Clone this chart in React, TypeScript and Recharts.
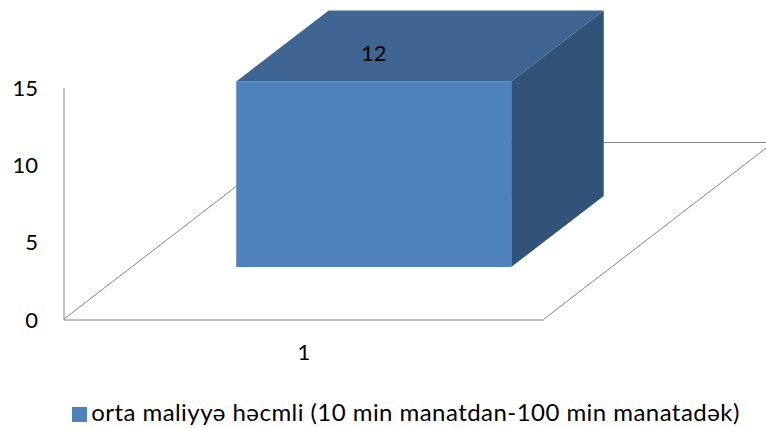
import { BarChart, Bar, XAxis, YAxis, Legend, LabelList } from 'recharts'

const categories = ['1']
const seriesValues = [12]
const seriesName = 'orta maliyyə həcmli (10 min manatdan-100 min manatadək)'
const yTicks = [0, 5, 10, 15]

const chartData = categories.map((c, i) => ({ category: c, value: seriesValues[i] }))

const FONT = 'Lato, Carlito, Calibri, sans-serif'
const LINE = '#858585'
const FRONT = '#4f81bd'
const TOP = '#3f6592'
const SIDE = '#325378'

const PLOT_LEFT = 64
const PLOT_BOTTOM = 319
const PLOT_WIDTH = 480

// fake 3D: the box sits partway into the floor, floor runs further back
const BOX_SHIFT_X = 69.5
const BOX_SHIFT_Y = 53
const BOX_DEPTH_X = 92.5
const BOX_DEPTH_Y = 71
const FLOOR_DEPTH_X = 230
const FLOOR_DEPTH_Y = 177

function Box3D(props: any) {
  const { x, y, width, height } = props
  const l = x + BOX_SHIFT_X
  const r = l + width
  const t = y - BOX_SHIFT_Y
  const b = t + height
  const dx = BOX_DEPTH_X
  const dy = BOX_DEPTH_Y
  const floorBack = PLOT_BOTTOM - FLOOR_DEPTH_Y

  return (
    <g>
      <line x1={PLOT_LEFT} y1={PLOT_BOTTOM} x2={PLOT_LEFT + FLOOR_DEPTH_X} y2={floorBack} stroke={LINE} strokeWidth={1} />
      <line x1={PLOT_LEFT + PLOT_WIDTH} y1={PLOT_BOTTOM} x2={PLOT_LEFT + PLOT_WIDTH + FLOOR_DEPTH_X} y2={floorBack} stroke={LINE} strokeWidth={1} />
      <line x1={PLOT_LEFT + FLOOR_DEPTH_X} y1={floorBack + 0.5} x2={PLOT_LEFT + PLOT_WIDTH + FLOOR_DEPTH_X} y2={floorBack + 0.5} stroke={LINE} strokeWidth={1} />
      <polygon points={`${l},${t} ${r},${t} ${r + dx},${t - dy} ${l + dx},${t - dy}`} fill={TOP} />
      <polygon points={`${r},${t} ${r + dx},${t - dy} ${r + dx},${b - dy} ${r},${b}`} fill={SIDE} />
      <rect x={l} y={t} width={width} height={height} fill={FRONT} />
    </g>
  )
}

function TopLabel(props: any) {
  const { x, y, width, value } = props
  return (
    <text
      x={x + BOX_SHIFT_X + width / 2}
      y={y - BOX_SHIFT_Y - 26}
      textAnchor="middle"
      dominantBaseline="middle"
      fontFamily={FONT}
      fontSize={22}
      fill="#000"
    >
      {value}
    </text>
  )
}

export default function App() {
  return (
    <div style={{ position: 'absolute', left: 0, top: 0, width: 766, height: 428, background: '#fff', overflow: 'hidden' }}>
      <BarChart
        width={766}
        height={428}
        data={chartData}
        margin={{ top: 88, right: 222, left: 0, bottom: 29 }}
        barCategoryGap="21.4%"
      >
        <XAxis
          dataKey="category"
          height={50}
          tickLine={false}
          tickMargin={18}
          tick={{ fontFamily: FONT, fontSize: 22, fill: '#000' }}
          axisLine={{ stroke: LINE, strokeWidth: 1 }}
        />
        <YAxis
          width={64}
          domain={[0, 15]}
          ticks={yTicks}
          tickSize={0}
          tickLine={false}
          tickMargin={26}
          tick={{ fontFamily: FONT, fontSize: 22, fill: '#000' }}
          axisLine={{ stroke: LINE, strokeWidth: 1 }}
        />
        <Legend
          verticalAlign="bottom"
          iconType="square"
          iconSize={15}
          formatter={(v) => <span style={{ color: '#000', letterSpacing: 0.45 }}>{v}</span>}
          wrapperStyle={{ fontFamily: FONT, fontSize: 24, left: 0, width: 822, bottom: 2, whiteSpace: 'nowrap' }}
        />
        <Bar dataKey="value" name={seriesName} fill={FRONT} shape={Box3D} isAnimationActive={false}>
          <LabelList dataKey="value" content={TopLabel} />
        </Bar>
      </BarChart>
    </div>
  )
}
